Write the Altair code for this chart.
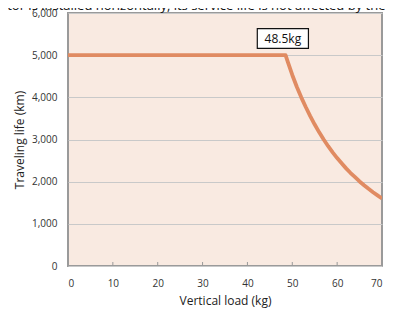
import altair as alt
import pandas as pd

# data
load_kg = [0, 48.5, 49, 50, 51, 52, 53, 54, 55, 56, 57, 58, 59, 60, 61, 62, 63, 64, 65, 66,
           67, 68, 69, 70]
life_km = [5000, 5000, 4840, 4530, 4250, 4000, 3770, 3555, 3355, 3170, 3000, 2840, 2695, 2560,
           2435, 2315, 2205, 2105, 2005, 1915, 1830, 1750, 1675, 1600]
x_ticks = [0, 10, 20, 30, 40, 50, 60, 70]
y_ticks = [0, 1000, 2000, 3000, 4000, 5000, 6000]
label_text = ["48.5kg"]
label_x = [47.9]
label_y = [5395]
label_x0 = [42.2]
label_x1 = [53.6]
label_y0 = [5160]
label_y1 = [5630]
top_text = ["ator is installed horizontally, its service life is not affected by the"]

FONT = "Open Sans"
df = pd.DataFrame({"load": load_kg, "life": life_km})
ann = pd.DataFrame({"t": label_text, "x": label_x, "y": label_y,
                    "x0": label_x0, "x1": label_x1, "y0": label_y0, "y1": label_y1})
ticks = pd.DataFrame({"x": x_ticks[1:-1]})
top = pd.DataFrame({"t": top_text})

xs = alt.Scale(domain=[0, 70], nice=False)
ys = alt.Scale(domain=[0, 6000], nice=False)

line = alt.Chart(df).mark_line(color="#E08B62", strokeWidth=3.8, clip=True,
                               strokeJoin="round").encode(
    x=alt.X("load:Q", scale=xs,
            axis=alt.Axis(title="Vertical load (kg)", values=x_ticks, grid=False, ticks=False,
                          domain=False, labelPadding=12, titlePadding=7, labelFontSize=10,
                          titleFontSize=12, labelColor="#333", titleColor="#222",
                          labelFont=FONT, titleFont=FONT, titleFontWeight="normal")),
    y=alt.Y("life:Q", scale=ys,
            axis=alt.Axis(title="Traveling life (km)", values=y_ticks, format=",d", grid=True,
                          gridColor="#C9C9C9", gridWidth=1, ticks=False, domain=False,
                          labelPadding=11, titlePadding=5, labelFontSize=10, titleFontSize=12,
                          labelColor="#333", titleColor="#222", labelFont=FONT,
                          titleFont=FONT, titleFontWeight="normal")),
)

xticks = alt.Chart(ticks).mark_rule(color="#999", strokeWidth=1).encode(
    x=alt.X("x:Q", scale=xs), y=alt.value(253), y2=alt.value(249))

box = alt.Chart(ann).mark_rect(fill="white", stroke="#111", strokeWidth=1.2).encode(
    x=alt.X("x0:Q", scale=xs), x2="x1:Q", y=alt.Y("y0:Q", scale=ys), y2="y1:Q")
txt = alt.Chart(ann).mark_text(font=FONT, fontSize=12, color="#111").encode(
    x=alt.X("x:Q", scale=xs), y=alt.Y("y:Q", scale=ys), text="t:N")

toptxt = alt.Chart(top).mark_text(font=FONT, fontSize=13, color="#111", align="left",
                                  baseline="alphabetic").encode(
    x=alt.value(-68), y=alt.value(-3), text="t:N")

chart = alt.layer(line, xticks, box, txt, toptxt).properties(
    width=314, height=253,
    background="white",
    autosize=alt.AutoSizeParams(type="none"),
    padding={"left": 60, "top": 5, "right": 3, "bottom": 46},
).configure_view(fill="#F9EAE1", stroke="#9A9A9A", strokeWidth=2)

chart.save("out.html", embed_options={"renderer": "svg", "actions": False})
